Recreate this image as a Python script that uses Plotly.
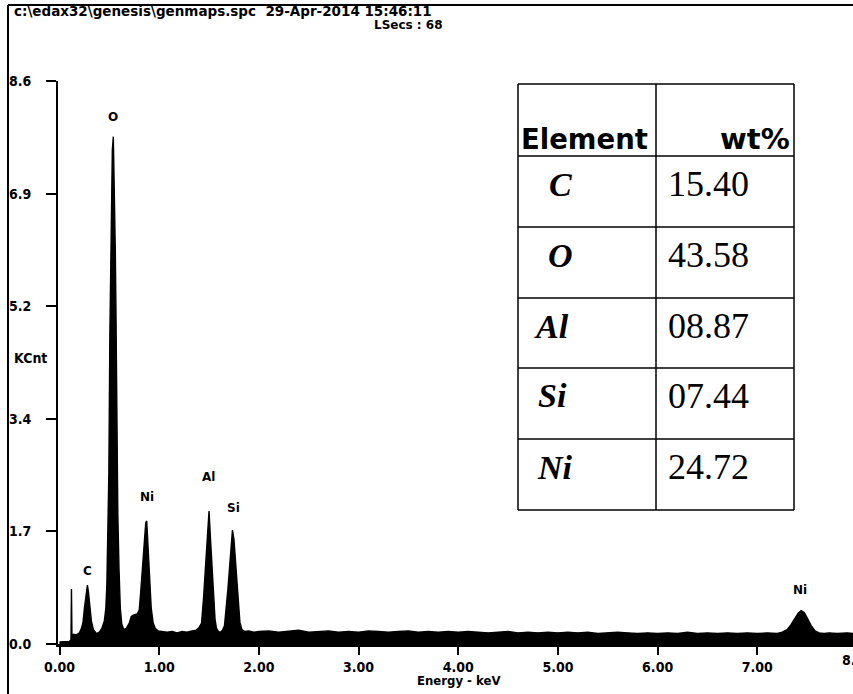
import plotly.graph_objects as go

# ---------------- data ----------------
energy_kev = [
    0.00, 0.05, 0.10, 0.115, 0.12, 0.125, 0.14, 0.17, 0.20, 0.22, 0.235, 0.25,
    0.265, 0.28, 0.29, 0.305, 0.32, 0.34, 0.37, 0.40, 0.425, 0.45, 0.465, 0.475,
    0.485, 0.495, 0.505, 0.513, 0.52, 0.53, 0.54, 0.55, 0.56, 0.567, 0.575, 0.585,
    0.597, 0.61, 0.625, 0.645, 0.67, 0.70, 0.72, 0.75, 0.78, 0.80, 0.815, 0.835,
    0.85, 0.865, 0.875, 0.89, 0.905, 0.92, 0.94, 0.96, 0.99, 1.03, 1.08, 1.13,
    1.18, 1.23, 1.28, 1.33, 1.37, 1.40, 1.425, 1.445, 1.46, 1.475, 1.49, 1.50,
    1.515, 1.53, 1.545, 1.56, 1.575, 1.595, 1.615, 1.635, 1.655, 1.675, 1.69,
    1.705, 1.72, 1.735, 1.75, 1.765, 1.78, 1.795, 1.81, 1.83, 1.86, 1.90, 1.95,
    2.00, 2.1, 2.2, 2.3, 2.4, 2.5, 2.6, 2.7, 2.8, 2.9, 3.0, 3.1, 3.2, 3.3, 3.4,
    3.5, 3.6, 3.7, 3.8, 3.9, 4.0, 4.1, 4.2, 4.3, 4.4, 4.5, 4.6, 4.7, 4.8, 4.9,
    5.0, 5.1, 5.2, 5.3, 5.4, 5.5, 5.6, 5.7, 5.8, 5.9, 6.0, 6.1, 6.2, 6.3, 6.4,
    6.5, 6.6, 6.7, 6.8, 6.9, 7.0, 7.1, 7.2, 7.25, 7.30, 7.34, 7.38, 7.41, 7.44,
    7.47, 7.50, 7.54, 7.58, 7.62, 7.67, 7.72, 7.80, 7.90, 7.96,
]
counts_kcnt = [
    0.03, 0.03, 0.04, 0.06, 0.84, 0.12, 0.15, 0.14, 0.17, 0.24, 0.32, 0.55,
    0.72, 0.90, 0.80, 0.60, 0.35, 0.22, 0.16, 0.18, 0.24, 0.35, 0.55, 0.90,
    1.60, 2.60, 4.70, 5.70, 7.20, 7.55, 7.75, 7.10, 6.00, 5.00, 3.20, 2.00,
    1.15, 0.55, 0.30, 0.22, 0.24, 0.32, 0.42, 0.45, 0.46, 0.52, 0.80, 1.20,
    1.55, 1.85, 1.88, 1.45, 0.95, 0.55, 0.32, 0.24, 0.20, 0.19, 0.18, 0.19,
    0.17, 0.19, 0.18, 0.20, 0.21, 0.25, 0.32, 0.70, 1.10, 1.55, 1.90, 2.03,
    1.60, 1.15, 0.70, 0.38, 0.24, 0.19, 0.18, 0.21, 0.28, 0.55, 0.85,
    1.15, 1.50, 1.74, 1.60, 1.30, 1.05, 0.60, 0.33, 0.22, 0.19, 0.20, 0.18,
    0.19, 0.20, 0.18, 0.19, 0.21, 0.18, 0.19, 0.20, 0.18, 0.19, 0.18, 0.20, 0.19, 0.18, 0.19,
    0.20, 0.18, 0.19, 0.18, 0.19, 0.18, 0.19, 0.18, 0.17, 0.18, 0.19, 0.17, 0.18, 0.17, 0.18,
    0.17, 0.18, 0.17, 0.18, 0.16, 0.17, 0.18, 0.17, 0.16, 0.17, 0.16, 0.17, 0.16, 0.18, 0.16,
    0.17, 0.16, 0.17, 0.16, 0.17, 0.16, 0.17, 0.16, 0.18, 0.22, 0.30, 0.40, 0.47, 0.51,
    0.48, 0.40, 0.28, 0.20, 0.17, 0.16, 0.17, 0.16, 0.17, 0.16,
]

peak_labels = ["O", "C", "Ni", "Al", "Si", "Ni"]
peak_label_energy = [0.54, 0.28, 0.875, 1.49, 1.75, 7.43]
peak_label_kcnt = [8.05, 1.11, 2.24, 2.55, 2.07, 0.83]

y_tick_values = [0, 1.72, 3.44, 5.16, 6.88, 8.6]
y_tick_labels = ["0.0", "1.7", "3.4", "5.2", "6.9", "8.6"]
x_tick_values = [0, 1, 2, 3, 4, 5, 6, 7]
x_tick_labels = ["0.00", "1.00", "2.00", "3.00", "4.00", "5.00", "6.00", "7.00"]

table_elements = ["C", "O", "Al", "Si", "Ni"]
table_wt = ["15.40", "43.58", "08.87", "07.44", "24.72"]

header_line1 = r"c:\edax32\genesis\genmaps.spc" + "\u00a0\u00a0" + "29-Apr-2014 15:46:11"
header_line2 = "LSecs : 68"

# ---------------- layout helpers ----------------
W, H = 853, 694
L, R, T, B = 58, 0, 81, 50
PW, PH = W - L - R, H - T - B


def px(x):
    return (x - L) / PW


def py(y):
    return (H - B - y) / PH


BOLD_FONT = "DejaVu Sans, Arial, sans-serif"
COND_FONT = "DejaVu Sans Condensed, DejaVu Sans, sans-serif"
SERIF = "Liberation Serif, Times New Roman, serif"

fig = go.Figure()
fig.add_trace(go.Scatter(
    x=energy_kev, y=counts_kcnt, mode="lines",
    line=dict(color="black", width=1.4),
    fill="tozeroy", fillcolor="black", hoverinfo="skip", showlegend=False,
))

annotations = []
# peak labels
for lab, e, k in zip(peak_labels, peak_label_energy, peak_label_kcnt):
    annotations.append(dict(x=e, y=k, xref="x", yref="y", text=lab, showarrow=False,
                            font=dict(family=BOLD_FONT, size=12, color="black", weight="bold"),
                            xanchor="center", yanchor="middle"))

# header
annotations.append(dict(x=px(12), y=py(11), xref="paper", yref="paper", text=header_line1,
                        showarrow=False, xanchor="left", yanchor="middle",
                        font=dict(family=BOLD_FONT, size=13.5, color="black", weight="bold")))
annotations.append(dict(x=px(445), y=py(25), xref="paper", yref="paper", text=header_line2,
                        showarrow=False, xanchor="right", yanchor="middle",
                        font=dict(family=BOLD_FONT, size=12, color="black", weight="bold")))
# y title
annotations.append(dict(x=px(12), y=py(358), xref="paper", yref="paper", text="KCnt",
                        showarrow=False, xanchor="left", yanchor="middle",
                        font=dict(family=COND_FONT, size=14, color="black", weight="bold")))
# x title
annotations.append(dict(x=4.0, y=py(680), xref="x", yref="paper", text="Energy - keV",
                        showarrow=False, xanchor="center", yanchor="middle",
                        font=dict(family=COND_FONT, size=13, color="black", weight="bold")))
# partially visible 8.00 tick label at the right edge (cut off in the reference too)
annotations.append(dict(x=px(857), y=py(660), xref="paper", yref="paper", text="8.00",
                        showarrow=False, xanchor="center", yanchor="middle",
                        font=dict(family=COND_FONT, size=14, color="black", weight="bold")))

# table
col_x = [518, 656, 794]
row_y = [84, 156, 227, 298, 368, 439, 510]
shapes = []
for x in col_x:
    shapes.append(dict(type="line", xref="paper", yref="paper", x0=px(x), x1=px(x),
                       y0=py(row_y[0]), y1=py(row_y[-1]), line=dict(color="black", width=1.5)))
for y in row_y:
    shapes.append(dict(type="line", xref="paper", yref="paper", x0=px(col_x[0]), x1=px(col_x[-1]),
                       y0=py(y), y1=py(y), line=dict(color="black", width=1.5)))
# outer frame of the picture
shapes.append(dict(type="line", xref="paper", yref="paper", x0=px(8), x1=px(8),
                   y0=py(5), y1=py(700), line=dict(color="black", width=2)))
shapes.append(dict(type="line", xref="paper", yref="paper", x0=px(8), x1=px(860),
                   y0=py(5), y1=py(5), line=dict(color="black", width=2)))

annotations.append(dict(x=px(519), y=py(139), xref="paper", yref="paper", text="Element",
                        showarrow=False, xanchor="left", yanchor="middle",
                        font=dict(family=BOLD_FONT, size=27.5, color="black", weight="bold")))
annotations.append(dict(x=px(792), y=py(139), xref="paper", yref="paper", text="wt%",
                        showarrow=False, xanchor="right", yanchor="middle",
                        font=dict(family=BOLD_FONT, size=29, color="black", weight="bold")))
elem_x_px = [560, 560, 551, 552, 555]
for i, (el, wt) in enumerate(zip(table_elements, table_wt)):
    yc = row_y[i + 1] + 28
    annotations.append(dict(x=px(elem_x_px[i]), y=py(yc), xref="paper", yref="paper",
                            text="<b><i>" + el + "</i></b>", showarrow=False,
                            xanchor="center", yanchor="middle",
                            font=dict(family=SERIF, size=34, color="black")))
    annotations.append(dict(x=px(666), y=py(yc), xref="paper", yref="paper", text=wt,
                            showarrow=False, xanchor="left", yanchor="middle",
                            font=dict(family=SERIF, size=36, color="black")))

fig.update_layout(
    width=W, height=H,
    margin=dict(l=L, r=R, t=T, b=B, autoexpand=False),
    paper_bgcolor="white", plot_bgcolor="white",
    showlegend=False,
    annotations=annotations, shapes=shapes,
    xaxis=dict(range=[-0.015, 7.96], showgrid=False, zeroline=False,
               showline=True, linecolor="black", linewidth=2.5,
               ticks="outside", ticklen=8, tickwidth=2, tickcolor="black",
               tickvals=x_tick_values, ticktext=x_tick_labels,
               tickfont=dict(family=COND_FONT, size=14, color="black", weight="bold")),
    yaxis=dict(range=[0, 8.6], showgrid=False, zeroline=False,
               showline=True, linecolor="black", linewidth=2,
               ticks="outside", ticklen=10, tickwidth=2, tickcolor="black",
               tickvals=y_tick_values, ticktext=y_tick_labels, ticklabelstandoff=12,
               tickfont=dict(family=COND_FONT, size=14, color="black", weight="bold")),
)

fig.write_html("out.html", config={"displayModeBar": False},
               post_script="document.body.style.margin='0';")
